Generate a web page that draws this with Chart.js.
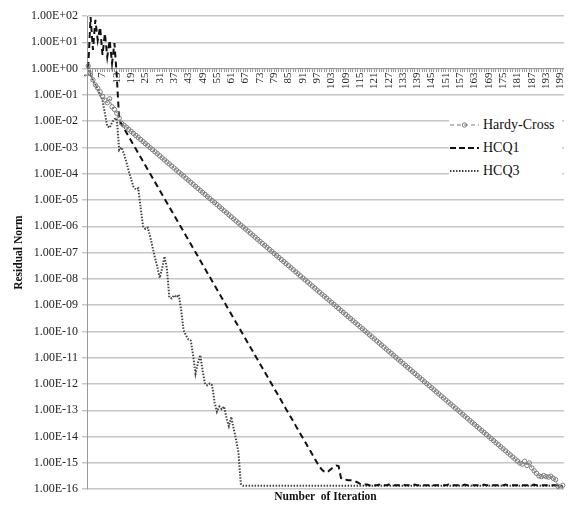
<!DOCTYPE html>
<html><head><meta charset="utf-8">
<script src="https://cdn.jsdelivr.net/npm/chart.js@4.4.1/dist/chart.umd.min.js"></script>
<style>
html,body{margin:0;padding:0;background:#fff;}
#wrap{position:relative;width:577px;height:505px;}
#legend{position:absolute;left:449px;top:112px;width:113px;height:72px;background:#fff;font-family:'Liberation Serif',serif;font-size:14px;color:#111;}
.row{position:absolute;left:0;height:20px;display:flex;align-items:center;white-space:nowrap;}
.row svg{width:31px;height:10px;margin-right:3px;}
</style></head><body>
<div id="wrap"><canvas id="c" width="577" height="505"></canvas><div id="legend"></div></div>
<script>
const iterations = [1,2,3,4,5,6,7,8,9,10,11,12,13,14,15,16,17,18,19,20,21,22,23,24,25,26,27,28,29,30,31,32,33,34,35,36,37,38,39,40,41,42,43,44,45,46,47,48,49,50,51,52,53,54,55,56,57,58,59,60,61,62,63,64,65,66,67,68,69,70,71,72,73,74,75,76,77,78,79,80,81,82,83,84,85,86,87,88,89,90,91,92,93,94,95,96,97,98,99,100,101,102,103,104,105,106,107,108,109,110,111,112,113,114,115,116,117,118,119,120,121,122,123,124,125,126,127,128,129,130,131,132,133,134,135,136,137,138,139,140,141,142,143,144,145,146,147,148,149,150,151,152,153,154,155,156,157,158,159,160,161,162,163,164,165,166,167,168,169,170,171,172,173,174,175,176,177,178,179,180,181,182,183,184,185,186,187,188,189,190,191,192,193,194,195,196,197,198,199,200];

const seriesNames = ['Hardy-Cross', 'HCQ1', 'HCQ3'];

const hardyCross = [
1.26,0.63,0.37,0.24,0.18,0.13,0.089,0.063,0.05,0.071,
0.035,0.028,0.02,0.013,8.3e-3,6.96e-3,5.82e-3,4.87e-3,4.08e-3,3.41e-3,
2.85e-3,2.39e-3,2.00e-3,1.67e-3,1.40e-3,1.17e-3,9.80e-4,8.20e-4,6.86e-4,5.74e-4,
4.80e-4,4.02e-4,3.36e-4,2.81e-4,2.36e-4,1.97e-4,1.65e-4,1.38e-4,1.15e-4,9.66e-5,
8.08e-5,6.76e-5,5.66e-5,4.74e-5,3.96e-5,3.32e-5,2.77e-5,2.32e-5,1.94e-5,1.63e-5,
1.36e-5,1.14e-5,9.52e-6,7.97e-6,6.67e-6,5.58e-6,4.67e-6,3.91e-6,3.27e-6,2.74e-6,
2.29e-6,1.92e-6,1.60e-6,1.34e-6,1.12e-6,9.39e-7,7.86e-7,6.57e-7,5.50e-7,4.60e-7,
3.85e-7,3.22e-7,2.70e-7,2.26e-7,1.89e-7,1.58e-7,1.32e-7,1.11e-7,9.26e-8,7.74e-8,
6.48e-8,5.42e-8,4.54e-8,3.80e-8,3.18e-8,2.66e-8,2.22e-8,1.86e-8,1.56e-8,1.30e-8,
1.09e-8,9.12e-9,7.63e-9,6.39e-9,5.35e-9,4.47e-9,3.74e-9,3.13e-9,2.62e-9,2.19e-9,
1.84e-9,1.54e-9,1.29e-9,1.08e-9,9.00e-10,7.53e-10,6.30e-10,5.27e-10,4.41e-10,3.69e-10,
3.09e-10,2.58e-10,2.16e-10,1.81e-10,1.51e-10,1.27e-10,1.06e-10,8.87e-11,7.42e-11,6.21e-11,
5.20e-11,4.35e-11,3.64e-11,3.04e-11,2.55e-11,2.13e-11,1.78e-11,1.49e-11,1.25e-11,1.04e-11,
8.74e-12,7.31e-12,6.12e-12,5.12e-12,4.29e-12,3.59e-12,3.00e-12,2.51e-12,2.10e-12,1.76e-12,
1.47e-12,1.23e-12,1.03e-12,8.62e-13,7.21e-13,6.03e-13,5.05e-13,4.22e-13,3.53e-13,2.96e-13,
2.47e-13,2.07e-13,1.73e-13,1.45e-13,1.21e-13,1.02e-13,8.50e-14,7.11e-14,5.95e-14,4.98e-14,
4.16e-14,3.48e-14,2.92e-14,2.44e-14,2.04e-14,1.71e-14,1.43e-14,1.20e-14,1.00e-14,8.38e-15,
7.01e-15,5.87e-15,4.91e-15,4.11e-15,3.44e-15,2.88e-15,2.41e-15,2.01e-15,1.68e-15,1.41e-15,
1.18e-15,9.87e-16,9.0e-16,1.15e-15,8.0e-16,1.0e-15,6.5e-16,5.0e-16,4.0e-16,3.2e-16,
3.0e-16,3.3e-16,3.0e-16,2.9e-16,3.1e-16,2.6e-16,2.3e-16,1.3e-16,1.1e-16,1.4e-16];

const hcq1 = [
1.05,91,5.1,71,12,38,3.3,22,2.8,12,
1.6,9.3,0.5,1.1e-2,7.59e-3,5.28e-3,3.68e-3,2.56e-3,1.79e-3,1.24e-3,
8.67e-4,6.04e-4,4.21e-4,2.93e-4,2.04e-4,1.42e-4,9.91e-5,6.90e-5,4.81e-5,3.35e-5,
2.33e-5,1.63e-5,1.13e-5,7.89e-6,5.50e-6,3.83e-6,2.67e-6,1.86e-6,1.29e-6,9.02e-7,
6.28e-7,4.38e-7,3.05e-7,2.12e-7,1.48e-7,1.03e-7,7.18e-8,5.00e-8,3.48e-8,2.43e-8,
1.69e-8,1.18e-8,8.20e-9,5.71e-9,3.98e-9,2.77e-9,1.93e-9,1.35e-9,9.38e-10,6.53e-10,
4.55e-10,3.17e-10,2.21e-10,1.54e-10,1.07e-10,7.46e-11,5.20e-11,3.62e-11,2.52e-11,1.76e-11,
1.22e-11,8.53e-12,5.94e-12,4.14e-12,2.88e-12,2.01e-12,1.40e-12,9.75e-13,6.79e-13,4.73e-13,
3.30e-13,2.30e-13,1.60e-13,1.11e-13,7.76e-14,5.41e-14,3.77e-14,2.62e-14,1.83e-14,1.27e-14,
8.87e-15,6.18e-15,4.31e-15,3.00e-15,2.09e-15,1.46e-15,1.01e-15,7.2e-16,5.5e-16,4.7e-16,
4.3e-16,5.0e-16,6.0e-16,7.1e-16,7.9e-16,7.6e-16,2.7e-16,2.3e-16,2.3e-16,2.2e-16,
2.2e-16,2.1e-16,2.0e-16,1.8e-16,1.6e-16,1.5e-16,1.5e-16,1.5e-16,1.4e-16,1.5e-16,
1.4e-16,1.4e-16,1.5e-16,1.4e-16,1.4e-16,1.4e-16,1.5e-16,1.4e-16,1.4e-16,1.4e-16,
1.4e-16,1.4e-16,1.5e-16,1.4e-16,1.4e-16,1.4e-16,1.4e-16,1.5e-16,1.4e-16,1.4e-16,
1.4e-16,1.4e-16,1.4e-16,1.4e-16,1.5e-16,1.4e-16,1.4e-16,1.4e-16,1.4e-16,1.4e-16,
1.4e-16,1.5e-16,1.4e-16,1.4e-16,1.4e-16,1.4e-16,1.4e-16,1.4e-16,1.5e-16,1.4e-16,
1.4e-16,1.4e-16,1.4e-16,1.4e-16,1.4e-16,1.4e-16,1.5e-16,1.4e-16,1.4e-16,1.4e-16,
1.4e-16,1.4e-16,1.4e-16,1.4e-16,1.4e-16,1.5e-16,1.4e-16,1.4e-16,1.4e-16,1.4e-16,
1.4e-16,1.4e-16,1.4e-16,1.4e-16,1.4e-16,1.4e-16,1.4e-16,1.5e-16,1.4e-16,1.4e-16,
1.4e-16,1.4e-16,1.4e-16,1.4e-16,1.4e-16,1.4e-16,1.4e-16,1.4e-16,1.3e-16,1.3e-16];

const hcq3 = [
1.1,0.63,0.35,0.25,0.16,0.10,0.063,0.02,6.3e-3,5.6e-3,
8.9e-3,1.2e-2,1.26e-2,7.9e-4,1.0e-3,5.6e-4,2.8e-4,1.26e-4,6.3e-5,3.2e-5,
2.5e-5,2.8e-5,5.0e-6,1.0e-6,7.9e-7,8.9e-7,4.0e-7,1.6e-7,6.3e-8,2.8e-8,
1.1e-8,2.5e-8,7.1e-8,2.5e-8,2.0e-9,1.8e-9,2.4e-9,2.0e-9,2.5e-9,6.3e-10,
1.1e-10,7.1e-11,5.0e-11,4.5e-11,1.26e-11,2.5e-12,6.3e-12,1.26e-11,3.2e-12,1.0e-12,
8.9e-13,1.05e-12,8.9e-13,2.0e-13,8.9e-14,1.4e-13,1.1e-13,1.4e-13,5.0e-14,2.5e-14,
5.6e-14,2.0e-14,7.9e-15,2.5e-15,1.6e-16,1.35e-16,1.35e-16,1.35e-16,1.35e-16,1.35e-16,
1.35e-16,1.35e-16,1.35e-16,1.35e-16,1.35e-16,1.35e-16,1.35e-16,1.35e-16,1.35e-16,1.35e-16,
1.35e-16,1.35e-16,1.35e-16,1.35e-16,1.35e-16,1.35e-16,1.35e-16,1.35e-16,1.35e-16,1.35e-16,
1.35e-16,1.35e-16,1.35e-16,1.35e-16,1.35e-16,1.35e-16,1.35e-16,1.35e-16,1.35e-16,1.35e-16,
1.35e-16,1.35e-16,1.35e-16,1.35e-16,1.35e-16,1.35e-16,1.35e-16,1.35e-16,1.35e-16,1.35e-16,
1.35e-16,1.35e-16,1.35e-16,1.35e-16,1.35e-16,1.35e-16,1.35e-16,1.35e-16,1.35e-16,1.35e-16,
1.35e-16,1.35e-16,1.35e-16,1.35e-16,1.35e-16,1.35e-16,1.35e-16,1.35e-16,1.35e-16,1.35e-16,
1.35e-16,1.35e-16,1.35e-16,1.35e-16,1.35e-16,1.35e-16,1.35e-16,1.35e-16,1.35e-16,1.35e-16,
1.35e-16,1.35e-16,1.35e-16,1.35e-16,1.35e-16,1.35e-16,1.35e-16,1.35e-16,1.35e-16,1.35e-16,
1.35e-16,1.35e-16,1.35e-16,1.35e-16,1.35e-16,1.35e-16,1.35e-16,1.35e-16,1.35e-16,1.35e-16,
1.35e-16,1.35e-16,1.35e-16,1.35e-16,1.35e-16,1.35e-16,1.35e-16,1.35e-16,1.35e-16,1.35e-16,
1.35e-16,1.35e-16,1.35e-16,1.35e-16,1.35e-16,1.35e-16,1.35e-16,1.35e-16,1.35e-16,1.35e-16,
1.35e-16,1.35e-16,1.35e-16,1.35e-16,1.35e-16,1.35e-16,1.35e-16,1.35e-16,1.35e-16,1.35e-16,
1.35e-16,1.35e-16,1.35e-16,1.35e-16,1.35e-16,1.35e-16,1.35e-16,1.35e-16,1.35e-16,1.35e-16];

const yTickValues = [1e-16,1e-15,1e-14,1e-13,1e-12,1e-11,1e-10,1e-9,1e-8,1e-7,1e-6,1e-5,1e-4,1e-3,1e-2,1e-1,1e0,1e1,1e2];
const yTickLabels = ['1.00E-16','1.00E-15','1.00E-14','1.00E-13','1.00E-12','1.00E-11','1.00E-10','1.00E-09','1.00E-08','1.00E-07','1.00E-06','1.00E-05','1.00E-04','1.00E-03','1.00E-02','1.00E-01','1.00E+00','1.00E+01','1.00E+02'];
const xTitle = 'Number  of Iteration';
const yTitle = 'Residual Norm';

const serif = "'Liberation Serif', 'Times New Roman', serif";

const chart = new Chart(document.getElementById('c'), {
  type: 'line',
  data: {
    labels: iterations,
    datasets: [
      { label: seriesNames[0], data: hardyCross, borderColor: '#7d7d7d', borderWidth: 1, borderDash: [3,2],
        pointStyle: 'circle', pointRadius: 2.2, pointBorderColor: '#7d7d7d', pointBackgroundColor: 'rgba(255,255,255,0)',
        pointBorderWidth: 1, tension: 0 },
      { label: seriesNames[1], data: hcq1, borderColor: '#111', borderWidth: 2, borderDash: [6,4], pointRadius: 0, tension: 0 },
      { label: seriesNames[2], data: hcq3, borderColor: '#444', borderWidth: 2, borderDash: [1.5,1.5], pointRadius: 0, tension: 0 }
    ]
  },
  options: {
    responsive: false, animation: false, devicePixelRatio: 1,
    layout: { padding: { left: 8, right: 5, top: 16, bottom: 0 } },
    plugins: {
      legend: { display: false }, tooltip: { enabled: false },
      title: { display: true, text: xTitle, position: 'bottom', fullSize: false,
        font: { family: serif, size: 11.5, weight: 'bold', lineHeight: 1.2 }, color: '#111', padding: { top: 1, bottom: 1 } }
    },
    scales: {
      x: {
        type: 'category', position: { y: 1 }, offset: true,
        grid: { drawOnChartArea: false, drawTicks: true, tickLength: 3, color: '#999' },
        border: { color: '#999' },
        ticks: { autoSkip: false, minRotation: 90, maxRotation: 90, padding: 1,
          font: { family: serif, size: 11 }, color: '#222',
          callback: (v, i) => (i % 6 === 0 ? String(iterations[i]) : '') }
      },
      y: {
        type: 'logarithmic', min: 1e-16, max: 1e2,
        afterBuildTicks: s => { s.ticks = yTickValues.map(v => ({ value: v })); },
        afterFit: s => { s.width = 79; },
        grid: { color: '#c6c6c6', lineWidth: 1.5, tickLength: 5, drawTicks: true },
        border: { color: '#999' },
        ticks: { padding: 4, font: { family: serif, size: 12 }, color: '#222',
          callback: v => { const k = yTickValues.indexOf(v); return k >= 0 ? yTickLabels[k] : ''; } },
        title: { display: true, text: yTitle, font: { family: serif, size: 11.5, weight: 'bold' }, color: '#111', padding: { top: 4, bottom: 0 } }
      }
    }
  }
});

// HTML legend built from the datasets
const samples = [
  '<svg viewBox="0 0 31 10"><line x1="1" y1="5" x2="30" y2="5" stroke="#7d7d7d" stroke-width="1" stroke-dasharray="4,3"/><circle cx="15.5" cy="5" r="2.2" fill="none" stroke="#7d7d7d" stroke-width="1"/></svg>',
  '<svg viewBox="0 0 31 10"><line x1="1" y1="5" x2="30" y2="5" stroke="#111" stroke-width="2" stroke-dasharray="6,3"/></svg>',
  '<svg viewBox="0 0 31 10"><line x1="1" y1="5" x2="30" y2="5" stroke="#444" stroke-width="2" stroke-dasharray="1.5,1.5"/></svg>'
];
const leg = document.getElementById('legend');
chart.data.datasets.forEach((ds, i) => {
  const row = document.createElement('div');
  row.className = 'row';
  row.style.top = (3 + i * 23) + 'px';
  row.innerHTML = samples[i] + '<span>' + ds.label + '</span>';
  leg.appendChild(row);
});
</script>
</body></html>
